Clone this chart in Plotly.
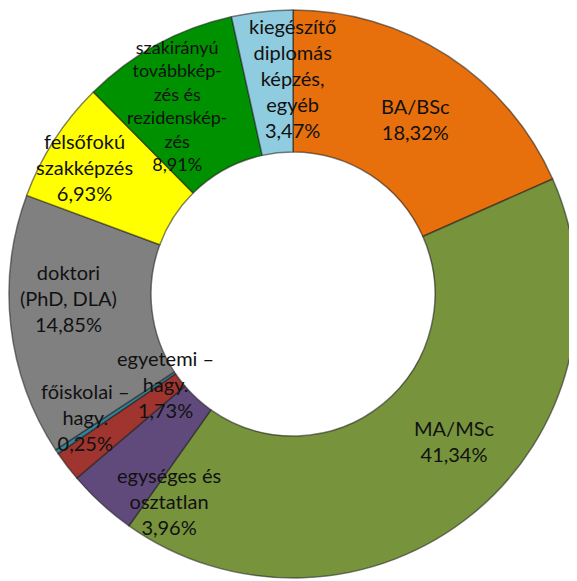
import math
import plotly.graph_objects as go

# ---- data (clockwise from 12 o'clock) ----
categories = [
    "BA/BSc", "MA/MSc", "egységes és osztatlan", "egyetemi – hagy.",
    "főiskolai – hagy.", "doktori (PhD, DLA)", "felsőfokú szakképzés",
    "szakirányú továbbképzés és rezidensképzés",
    "kiegészítő diplomás képzés, egyéb",
]
values = [18.32, 41.34, 3.96, 1.73, 0.25, 14.85, 6.93, 8.91, 3.47]
label_lines = [
    "BA/BSc", "MA/MSc", "egységes és<br>osztatlan", "egyetemi –<br>hagy.",
    "főiskolai –<br>hagy.", "doktori<br>(PhD, DLA)", "felsőfokú<br>szakképzés",
    "szakirányú<br>továbbkép-<br>zés és<br>rezidenskép-<br>zés",
    "kiegészítő<br>diplomás<br>képzés,<br>egyéb",
]
colors = ["#E8700C", "#77933C", "#604A7B", "#A0352F", "#31859C",
          "#808080", "#FFFF00", "#009100", "#8FCCE0"]

# ---- label placement styles (radius fraction of outer radius, angle nudge deg) ----
label_r = [0.75, 0.77, 0.85, 0.55, 0.85, 0.79, 0.86, 0.78, 0.76]
label_dang = [1.9, -8.5, -11.6, 2.0, 3.0, 5.5, -1.4, -2.9, 6.0]
label_size = [20, 20, 20, 20, 20, 20, 20, 18, 20]

W, H = 577, 581
# page body has an 8px margin; compensate so the ring sits where the reference has it
ml, mr, mt, mb = 1, 8, 2, 11
pw, ph = W - ml - mr, H - mt - mb
R = min(pw, ph) / 2
cx, cy = ml + pw / 2, mt + ph / 2

fig = go.Figure(go.Pie(
    labels=categories, values=values, hole=0.5, sort=False,
    direction="clockwise", rotation=0, textinfo="none",
    marker=dict(colors=colors, line=dict(color="rgba(30,30,30,0.55)", width=1.5)),
    showlegend=False, hoverinfo="label+percent",
))

total = sum(values)
cum = 0.0
for i, v in enumerate(values):
    mid = (cum + v / 2) / total * 360 + label_dang[i]
    cum += v
    r = label_r[i] * R
    px = cx + r * math.sin(math.radians(mid))
    py = cy - r * math.cos(math.radians(mid))
    pct = f"{v:.2f}".replace(".", ",") + "%"
    fig.add_annotation(
        x=(px - ml) / pw, y=(H - mb - py) / ph, xref="paper", yref="paper",
        text=f"{label_lines[i]}<br>{pct}", showarrow=False,
        xanchor="center", yanchor="middle", align="center",
        font=dict(family="Lato, Carlito, sans-serif", size=label_size[i], color="#111111"),
    )

fig.update_layout(
    width=W, height=H, margin=dict(l=ml, r=mr, t=mt, b=mb),
    paper_bgcolor="white", plot_bgcolor="white",
)
fig.write_html("out.html")
